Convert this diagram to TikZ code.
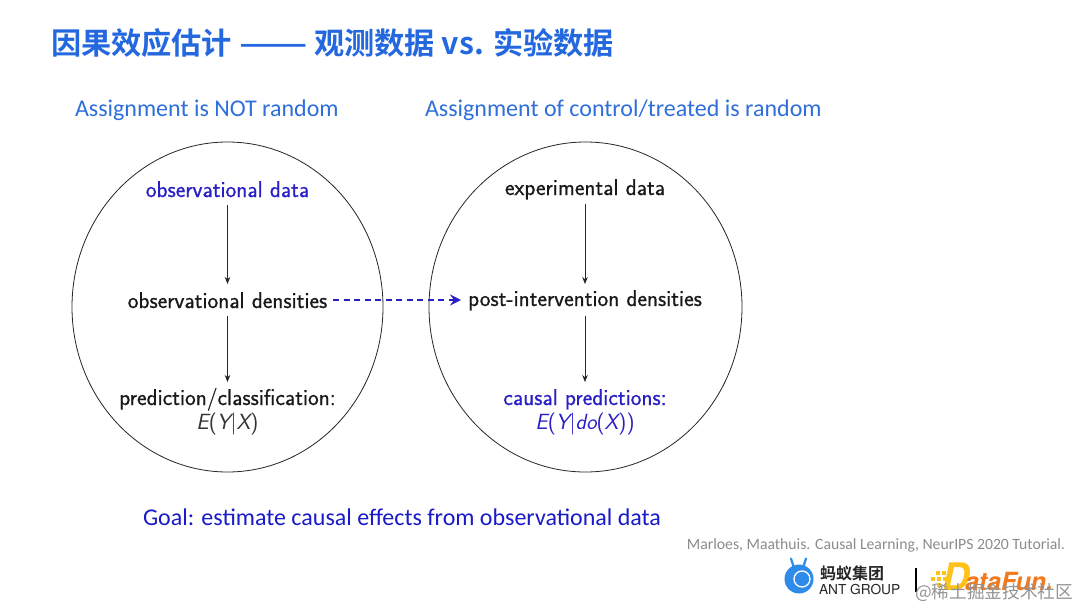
\documentclass[tikz,border=0pt]{standalone}
\usepackage{fontspec}
\usepackage{graphicx}
\setmainfont{Carlito}
\newfontfamily\cjk{Noto Sans CJK SC}
\newfontfamily\cjkb{Noto Sans CJK SC Bold}
\newfontfamily\heros{TeX Gyre Heros}
\newfontfamily\lmb[FakeBold=0.6]{Latin Modern Sans}
\newfontfamily\lmr{Latin Modern Sans}
\newfontfamily\lmi[FakeSlant=0.2]{Latin Modern Sans}
\newcommand{\vrb}[1]{{\lmi #1}}
\usetikzlibrary{arrows.meta,shapes.geometric}
\definecolor{titleblue}{HTML}{2468E0}
\definecolor{subblue}{HTML}{2F6FDB}
\definecolor{causal}{HTML}{2A1FC4}
\definecolor{goalblue}{HTML}{1A1AC8}
\definecolor{footgray}{HTML}{8C8C8C}
\definecolor{antblue}{HTML}{2F8BEA}
\definecolor{dfyellow}{HTML}{FFC21A}
\definecolor{dforange}{HTML}{F2791C}
\tikzset{
  x=1pt,y=-1pt,
  every node/.style={inner sep=0pt,outer sep=0pt},
  circ/.style={draw=black!85,line width=0.8pt,ellipse},
  lab/.style={font=\fontsize{22.8}{26}\selectfont\lmb,text=black!90,anchor=base},
  mth/.style={font=\fontsize{22}{26}\selectfont\lmr,text=black!80,anchor=base},
  sub/.style={font=\fontsize{24}{28}\selectfont,text=subblue,anchor=base west},
  flow/.style={-{Stealth[length=7pt,width=5.5pt]},draw=black!85,line width=0.7pt},
  cross/.style={-{Stealth[length=11pt,width=11pt,inset=4pt]},draw=causal,line width=2pt,dash pattern=on 6pt off 4.5pt},
}
\begin{document}
\begin{tikzpicture}
\useasboundingbox (0,0) rectangle (1080,608);
\fill[white] (0,0) rectangle (1080,608);
% title
\node[anchor=base west,text=titleblue,font=\fontsize{30.2}{33}\selectfont\cjkb] (title) at (51,54) {因果效应估计 \scalebox{1.33}[1]{——} 观测数据 vs. 实验数据};
% subtitles
\node[sub] (s1) at (75,116) {Assignment is NOT random};
\node[sub] (s2) at (425,116) {Assignment of control/treated is random};
% circles
\node[circ,minimum width=311pt,minimum height=330pt] (c1) at (227.5,307) {};
\node[circ,minimum width=313pt,minimum height=330pt] (c2) at (585.5,307) {};
% labels
\node[lab,text=causal] (o1) at (227.5,197) {observational data};
\node[lab] (o2) at (227.5,308) {observational densities};
\node[lab] (o3) at (227.5,405) {prediction/classification:};
\node[mth] (o4) at (227.5,429) {\vrb{E}(\vrb{Y}|\vrb{X})};
\node[lab] (e1) at (585,195) {experimental data};
\node[lab] (e2) at (585,306) {post-intervention densities};
\node[lab,text=causal] (e3) at (585,405) {causal predictions:};
\node[mth,text=causal] (e4) at (585,429) {\vrb{E}(\vrb{Y}|\vrb{do}(\vrb{X}))};
% arrows
\draw[flow] (227.5,205) -- (227.5,284);
\draw[flow] (227.5,316) -- (227.5,382);
\draw[flow] (585,204) -- (585,284);
\draw[flow] (585,316) -- (585,382);
\draw[cross] (333,300) -- (461,300);
% goal
\node[anchor=base west,text=goalblue,font=\fontsize{24}{28}\selectfont] (goal) at (143,525) {Goal: estimate causal effects from observational data};
% footer
\node[anchor=base east,text=footgray,font=\fontsize{15.7}{18}\selectfont] (foot) at (1065,549) {Marloes, Maathuis. Causal Learning, NeurIPS 2020 Tutorial.};
% ant logo
\fill[antblue] (799,579) circle (14.5);
\draw[white,line width=1.3pt] (802,579) circle (8);
\draw[antblue,line width=2.2pt,line cap=round] (794,568) -- (791,558.5);
\draw[antblue,line width=2.2pt,line cap=round] (803,568) -- (806,558.5);
\node[anchor=base west,font=\fontsize{16}{18}\selectfont\cjkb,text=black!85] (ant1) at (820,579) {蚂蚁集团};
\node[anchor=base west,font=\fontsize{13.7}{15}\selectfont\heros,text=black!85] (ant2) at (819,594) {ANT GROUP};
\draw[black,line width=1.5pt] (916,568) -- (916,592);
% datafun logo
\foreach \a/\b in {936/571,942/571,931/577,937/577,943/577,937/583}
  \fill[dfyellow] (\a,\b) rectangle ++(4,4);
\node[anchor=base west,font=\fontsize{38}{40}\selectfont\heros\bfseries\itshape,text=dfyellow] (dfa) at (942,590) {D};
\node[anchor=base west,font=\fontsize{25}{27}\selectfont\heros\bfseries\itshape,text=dforange] (dfb) at (965,590) {ataFun.};
% watermark
\node[anchor=base west,font=\fontsize{17.7}{20}\selectfont\cjk,text=black!42] (wm) at (915,598) {@稀土掘金技术社区};
\end{tikzpicture}
\end{document}
